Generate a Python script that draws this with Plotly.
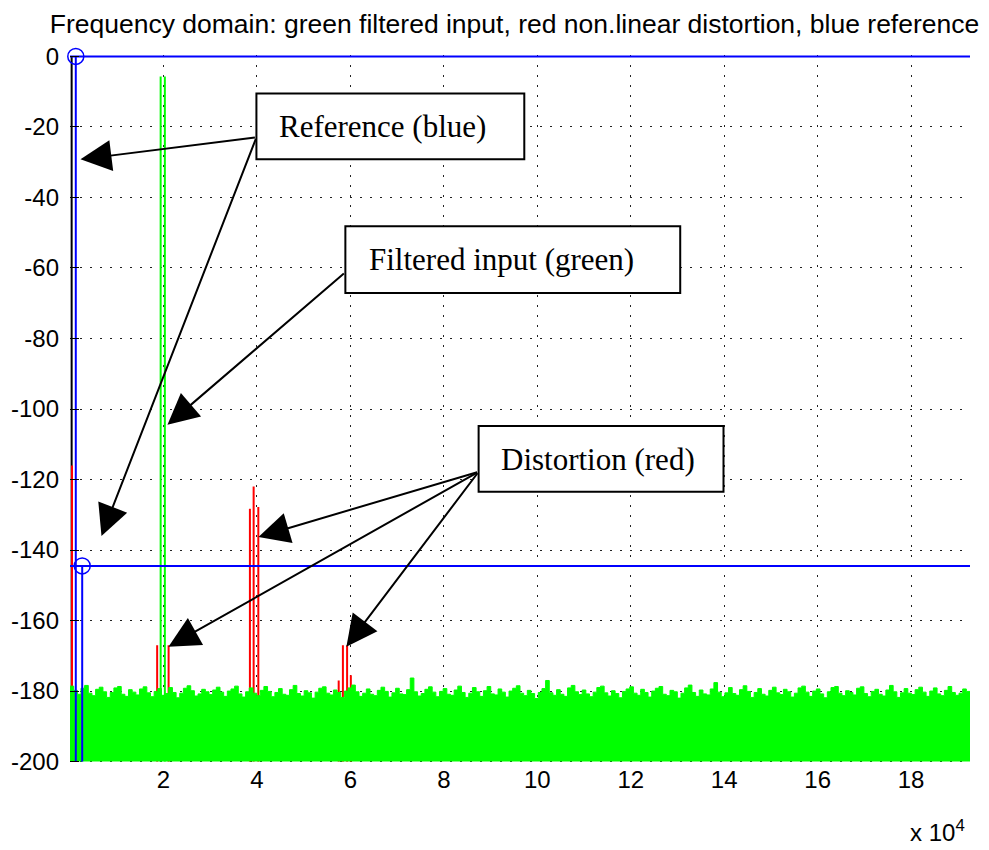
import plotly.graph_objects as go

# ---------------- data ----------------
F_MAX = 192600  # Hz, right end of the spectrum

# noise floor of the filtered input (dB), read left to right
noise_db = [
    -178.6, -179.8, -180.9, -179.2, -178.4, -180.6, -181.3, -179.5, -178.9, -180.2, -181.8, -180.4, -179.1, -178.7, -180.9, -181.5, -179.6, -180.3, -181.1, -179.4,
    -178.8, -180.5, -181.6, -180.1, -179.3, -181.2, -180.7, -179.0, -180.4, -181.9, -180.6, -179.2, -178.5, -179.9, -181.4, -180.8, -179.5, -180.2, -181.0, -179.7,
    -178.9, -180.3, -181.5, -180.0, -179.4, -178.6, -180.8, -181.7, -180.2, -179.1, -180.6, -181.3, -179.8, -178.7, -180.1, -181.6, -180.4, -179.3, -180.9, -181.2,
    -179.6, -178.4, -180.7, -181.4, -179.9, -180.5, -182.0, -180.3, -179.2, -178.8, -180.6, -181.1, -179.7, -180.4, -181.8, -180.0, -179.1, -178.3, -180.2, -181.5,
    -180.6, -179.4, -180.9, -181.3, -179.8, -178.9, -180.1, -181.7, -180.5, -179.2, -180.8, -181.0, -179.6, -176.3, -180.2, -181.4, -180.7, -179.5, -178.8, -180.3,
    -181.6, -180.1, -179.3, -180.9, -181.2, -179.7, -178.6, -180.4, -181.8, -180.6, -179.0, -180.2, -181.5, -179.9, -178.7, -180.8, -181.1, -179.4, -180.3, -181.7,
    -180.0, -179.2, -178.5, -180.6, -181.3, -179.8, -180.7, -182.1, -180.4, -179.3, -177.0, -180.5, -181.2, -179.6, -180.9, -181.5, -179.1, -178.4, -180.2, -181.0,
    -179.7, -180.8, -181.6, -180.3, -179.0, -178.6, -180.5, -181.4, -179.9, -180.7, -181.9, -180.1, -179.4, -178.8, -180.6, -181.2, -179.5, -180.4, -181.7, -180.0,
    -179.2, -178.7, -180.9, -181.3, -179.8, -180.2, -182.0, -180.6, -179.1, -178.3, -180.4, -181.5, -179.7, -180.8, -181.1, -179.4, -177.6, -180.3, -181.6, -180.5,
    -179.0, -180.7, -181.2, -179.6, -178.5, -180.1, -181.8, -180.4, -179.3, -180.9, -181.4, -179.8, -178.9, -180.5, -181.0, -179.5, -180.2, -181.7, -180.6, -179.1,
    -178.6, -180.3, -181.5, -180.0, -179.4, -180.8, -181.9, -180.2, -179.0, -178.7, -180.6, -181.3, -179.9, -180.4, -181.1, -179.2, -178.8, -180.7, -181.6, -180.1,
    -179.5, -180.9, -181.4, -179.7, -178.4, -180.2, -181.8, -180.5, -179.3, -180.6, -181.0, -179.6, -178.9, -180.3, -181.5, -180.0, -179.1, -180.8, -181.3, -179.8,
    -178.7, -180.4, -181.2, -180.6, -179.4, -180.1,
]

# filtered input tones (green)
green_freq = [19400, 20300]
green_db = [-5.7, -5.7]

# non-linear distortion products (red)
red_freq = [430, 18650, 21100, 38500, 39300, 40300, 57500, 58400, 59300, 60100]
red_db = [-116.0, -167.0, -167.0, -128.3, -122.0, -127.8, -177.0, -167.0, -167.0, -175.5]

# black component at DC
black_freq = [350]
black_db = [0.0]

# reference (blue): level and frequency of each marker
ref_freq = [1240, 2610]
ref_db = [0.0, -144.5]

FLOOR = -200
y_ticks = [0, -20, -40, -60, -80, -100, -120, -140, -160, -180, -200]
x_ticks = [20000, 40000, 60000, 80000, 100000, 120000, 140000, 160000, 180000]
x_tick_text = ["2", "4", "6", "8", "10", "12", "14", "16", "18"]

title_text = "Frequency domain: green filtered input, red non.linear distortion, blue reference"


def stems(freqs, levels):
    xs, ys = [], []
    for f, v in zip(freqs, levels):
        xs += [f, f, None]
        ys += [FLOOR, v, None]
    return xs, ys


fig = go.Figure()

# black DC line
bx, by = stems(black_freq, black_db)
fig.add_trace(go.Scatter(x=bx, y=by, mode="lines", line=dict(color="black", width=2),
                         showlegend=False, hoverinfo="skip"))

# red distortion stems
rx, ry = stems(red_freq, red_db)
fig.add_trace(go.Scatter(x=rx, y=ry, mode="lines", line=dict(color="#ff0000", width=2),
                         showlegend=False, hoverinfo="skip"))

# green noise floor (filled)
n = len(noise_db)
df = F_MAX / n
nx = [i * df for i in range(n)] + [F_MAX]
ny = noise_db + [noise_db[-1]]
fig.add_trace(go.Scatter(x=[0, F_MAX], y=[FLOOR, FLOOR], mode="lines",
                         line=dict(color="#00ff00", width=0), showlegend=False, hoverinfo="skip"))
fig.add_trace(go.Scatter(x=nx, y=ny, mode="lines", line=dict(color="#00ff00", width=1, shape="hv"),
                         fill="tonexty", fillcolor="#00ff00", showlegend=False, hoverinfo="skip"))

# green tones
gx, gy = stems(green_freq, green_db)
fig.add_trace(go.Scatter(x=gx, y=gy, mode="lines", line=dict(color="#00ff00", width=2),
                         showlegend=False, hoverinfo="skip"))

# blue reference: horizontal level lines, vertical stems and circle markers
for f, v in zip(ref_freq, ref_db):
    fig.add_trace(go.Scatter(x=[0, F_MAX], y=[v, v], mode="lines",
                             line=dict(color="#0000ff", width=2), cliponaxis=False,
                             showlegend=False, hoverinfo="skip"))
    fig.add_trace(go.Scatter(x=[f, f], y=[v, FLOOR], mode="lines",
                             line=dict(color="#0000ff", width=2), cliponaxis=False,
                             showlegend=False, hoverinfo="skip"))
    fig.add_trace(go.Scatter(x=[f], y=[v], mode="markers",
                             marker=dict(symbol="circle-open", size=16, color="#0000ff",
                                         line=dict(width=1.5, color="#0000ff")),
                             cliponaxis=False, showlegend=False, hoverinfo="skip"))

# ---------------- annotation boxes ----------------
boxes = [
    dict(x0=39893, x1=97219, y0=-10.5, y1=-29.2, tx=44400, ty=-19.8, text="Reference (blue)"),
    dict(x0=58930, x1=130588, y0=-48.2, y1=-67.1, tx=63500, ty=-57.7, text="Filtered input (green)"),
    dict(x0=87444, x1=139850, y0=-104.8, y1=-123.5, tx=91800, ty=-114.2, text="Distortion (red)"),
]
arrows = [
    dict(ax=39893, ay=-22.95, x=2246, y=-29.2),
    dict(ax=39893, ay=-22.95, x=6738, y=-136.0),
    dict(ax=58930, ay=-61.2, x=20856, y=-104.5),
    dict(ax=87444, ay=-117.8, x=40321, y=-136.3),
    dict(ax=87444, ay=-117.8, x=21070, y=-167.4),
    dict(ax=87444, ay=-117.8, x=59144, y=-167.4),
]

shapes = []
annotations = []
for b in boxes:
    shapes.append(dict(type="rect", xref="x", yref="y", x0=b["x0"], x1=b["x1"], y0=b["y0"], y1=b["y1"],
                       line=dict(color="black", width=2), fillcolor="white", layer="above"))
    annotations.append(dict(x=b["tx"], y=b["ty"], xref="x", yref="y", text=b["text"], showarrow=False,
                            xanchor="left", yanchor="middle",
                            font=dict(family="Liberation Serif", size=31, color="black")))
for a in arrows:
    annotations.append(dict(x=a["x"], y=a["y"], ax=a["ax"], ay=a["ay"], xref="x", yref="y",
                            axref="x", ayref="y", text="", showarrow=True, arrowhead=2,
                            arrowsize=3.1, arrowwidth=2, arrowcolor="black", standoff=0))

annotations.append(dict(xref="paper", yref="paper", x=(967 - 69.5) / 900.5, y=-(830 - 762) / 706,
                        xanchor="right", yanchor="middle", showarrow=False,
                        text="x 10<sup>4</sup>",
                        font=dict(family="Liberation Sans", size=24, color="black")))

fig.update_layout(
    width=989, height=850,
    margin=dict(l=69.5, r=19, t=54.6, b=86.6, autoexpand=False),
    paper_bgcolor="white", plot_bgcolor="white",
    title=dict(text=title_text, x=(514.5) / 989, xanchor="center", y=1 - 24 / 850, yanchor="middle",
               font=dict(family="Liberation Sans", size=26.5, color="black")),
    shapes=shapes,
    annotations=annotations,
    showlegend=False,
)
fig.update_xaxes(range=[0, F_MAX], tickvals=x_ticks, ticktext=x_tick_text,
                 showgrid=True, gridcolor="#222222", gridwidth=1, griddash="2px,8px",
                 zeroline=False, showline=False, ticks="",
                 tickfont=dict(family="Liberation Sans", size=24, color="black"))
fig.update_yaxes(range=[-200.4, 0.4], tickvals=y_ticks, ticktext=[str(v) for v in y_ticks],
                 showgrid=True, gridcolor="#222222", gridwidth=1, griddash="2px,8px",
                 zeroline=False, showline=False, ticks="inside", ticklen=9, tickcolor="black",
                 ticklabelstandoff=10,
                 tickfont=dict(family="Liberation Sans", size=24, color="black"))

fig.write_html("out.html", config={"displayModeBar": False},
               post_script="document.body.style.margin='0px';document.body.style.padding='0px';")
